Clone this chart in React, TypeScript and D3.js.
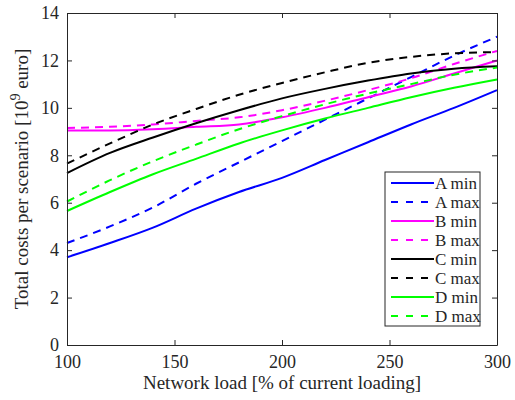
import { useEffect, useRef } from "react";
import * as d3 from "d3";

// network load [% of current loading]
const loads = [100, 120, 140, 160, 180, 200, 220, 240, 260, 280, 300];

// total costs per scenario [10^9 euro]
const aMin = [3.7, 4.3, 4.95, 5.75, 6.45, 7.05, 7.8, 8.55, 9.3, 10.0, 10.75];
const aMax = [4.3, 5.0, 5.8, 6.8, 7.7, 8.6, 9.5, 10.4, 11.3, 12.2, 13.0];
const bMin = [9.05, 9.05, 9.1, 9.2, 9.3, 9.6, 10.0, 10.45, 10.9, 11.45, 12.0];
const bMax = [9.15, 9.2, 9.3, 9.45, 9.6, 9.9, 10.3, 10.75, 11.25, 11.85, 12.4];
const cMin = [7.25, 8.1, 8.75, 9.35, 9.9, 10.4, 10.8, 11.15, 11.45, 11.65, 11.75];
const cMax = [7.65, 8.5, 9.3, 9.95, 10.55, 11.05, 11.5, 11.9, 12.15, 12.3, 12.35];
const dMin = [5.65, 6.45, 7.2, 7.85, 8.5, 9.05, 9.55, 10.0, 10.45, 10.85, 11.2];
const dMax = [6.05, 6.95, 7.75, 8.45, 9.1, 9.65, 10.15, 10.6, 11.0, 11.4, 11.7];

const seriesNames = ["A min", "A max", "B min", "B max", "C min", "C max", "D min", "D max"];
const seriesValues = [aMin, aMax, bMin, bMax, cMin, cMax, dMin, dMax];
const seriesColors = ["#0000ff", "#0000ff", "#ff00ff", "#ff00ff", "#000000", "#000000", "#00ff00", "#00ff00"];

const xTicks = [100, 150, 200, 250, 300];
const yTicks = [0, 2, 4, 6, 8, 10, 12, 14];

const FONT = "'Liberation Serif', 'Times New Roman', Times, 'DejaVu Serif', serif";

const App = () => {
    const ref = useRef<SVGSVGElement>(null);

    useEffect(() => {
        const svg = d3.select(ref.current);
        svg.selectAll("*").remove();

        const W = 515, H = 400;
        const margin = { top: 13, right: 18, bottom: 55, left: 67 };
        const axisColor = "#262626";

        const x = d3.scaleLinear().domain([100, 300]).range([margin.left, W - margin.right]);
        const y = d3.scaleLinear().domain([0, 14]).range([H - margin.bottom, margin.top]);

        const g = svg.append("g").style("font-family", FONT);

        // lines
        const line = d3.line<number>()
            .x((_, i) => x(loads[i]))
            .y((d) => y(d))
            .curve(d3.curveMonotoneX);

        seriesValues.forEach((vals, i) => {
            g.append("path")
                .attr("d", line(vals))
                .attr("fill", "none")
                .attr("stroke", seriesColors[i])
                .attr("stroke-width", 2)
                .attr("stroke-dasharray", i % 2 === 1 ? "8,6" : null);
        });

        // axes box with inward ticks on all sides
        const tickLen = 5;
        const axB = g.append("g").attr("transform", `translate(0,${y(0)})`)
            .call(d3.axisBottom(x).tickValues(xTicks).tickSizeInner(-tickLen).tickSizeOuter(0).tickPadding(8));
        const axT = g.append("g").attr("transform", `translate(0,${y(14)})`)
            .call(d3.axisTop(x).tickValues(xTicks).tickSizeInner(-tickLen).tickSizeOuter(0).tickFormat(() => ""));
        const axL = g.append("g").attr("transform", `translate(${x(100)},0)`)
            .call(d3.axisLeft(y).tickValues(yTicks).tickSizeInner(-tickLen).tickSizeOuter(0).tickPadding(8));
        const axR = g.append("g").attr("transform", `translate(${x(300)},0)`)
            .call(d3.axisRight(y).tickValues(yTicks).tickSizeInner(-tickLen).tickSizeOuter(0).tickFormat(() => ""));

        [axB, axT, axL, axR].forEach((a) => {
            a.attr("font-family", null).attr("font-size", 18);
            a.selectAll("path, line").attr("stroke", axisColor).attr("stroke-width", 1);
            a.selectAll("text").attr("fill", axisColor).style("font-family", FONT);
        });
        axB.selectAll("text").attr("dy", "0.85em");

        // axis labels
        g.append("text")
            .attr("x", (x(100) + x(300)) / 2)
            .attr("y", 389)
            .attr("text-anchor", "middle")
            .attr("fill", axisColor)
            .attr("font-size", 19)
            .text("Network load [% of current loading]");

        const yl = g.append("text")
            .attr("transform", `translate(28,${(y(0) + y(14)) / 2}) rotate(-90)`)
            .attr("text-anchor", "middle")
            .attr("fill", axisColor)
            .attr("font-size", 19);
        yl.append("tspan").text("Total costs per scenario [10");
        yl.append("tspan").attr("dy", -8).attr("font-size", 14).text("9");
        yl.append("tspan").attr("dy", 8).text(" euro]");

        // legend
        const lx = 385, ly = 172, lw = 95, rowH = 19;
        const leg = g.append("g");
        leg.append("rect")
            .attr("x", lx).attr("y", ly)
            .attr("width", lw).attr("height", rowH * seriesNames.length + 2)
            .attr("fill", "#fff")
            .attr("stroke", axisColor)
            .attr("stroke-width", 1);
        seriesNames.forEach((name, i) => {
            const cy = ly + 11 + i * rowH;
            leg.append("line")
                .attr("x1", lx + 6).attr("x2", lx + 49)
                .attr("y1", cy).attr("y2", cy)
                .attr("stroke", seriesColors[i])
                .attr("stroke-width", 2)
                .attr("stroke-dasharray", i % 2 === 1 ? "7,8" : null);
            leg.append("text")
                .attr("x", lx + 50).attr("y", cy)
                .attr("dy", "0.35em")
                .attr("fill", axisColor)
                .attr("font-size", 17)
                .text(name);
        });
    }, []);

    return (
        <svg
            ref={ref}
            width={515}
            height={400}
            style={{ position: "absolute", left: 0, top: 0, background: "#fff" }}
        ></svg>
    );
};

export default App;
